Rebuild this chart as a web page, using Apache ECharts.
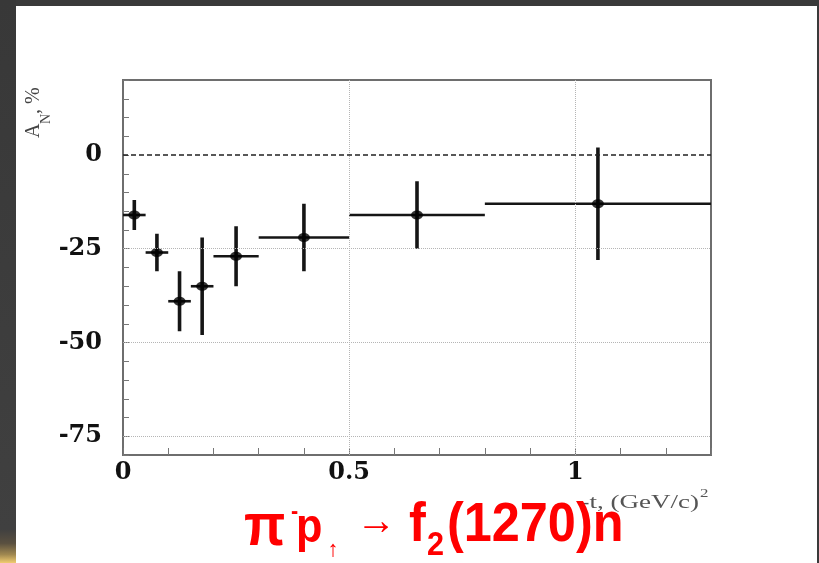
<!DOCTYPE html>
<html>
<head>
<meta charset="utf-8">
<script src="https://cdn.jsdelivr.net/npm/echarts@6/dist/echarts.min.js"></script>
<style>
  html, body { margin: 0; padding: 0; }
  body { width: 819px; height: 563px; background: #3a3a3a; position: relative; overflow: hidden; }
  #edge { position: absolute; left: 0; top: 0; width: 16px; height: 563px;
          background: linear-gradient(to bottom, #383838 0%, #404040 94%, #5a5040 96.5%, #a08850 98.5%, #f0cc70 100%); }
  #panel { position: absolute; left: 16px; top: 6px; width: 801px; height: 557px; background: #ffffff; }
  #chart { position: absolute; left: 0; top: 0; width: 819px; height: 563px; }
</style>
</head>
<body>
<div id="edge"></div>
<div id="panel"></div>
<div id="chart"></div>
<script>
// t bins (GeV/c)^2 and the analysing power A_N in each bin (%)
const binLow    = [0, 0.05, 0.10, 0.15, 0.20, 0.30, 0.50, 0.80];
const binHigh   = [0.05, 0.10, 0.15, 0.20, 0.30, 0.50, 0.80, 1.30];
const binCenter = [0.025, 0.075, 0.125, 0.175, 0.25, 0.40, 0.65, 1.05];
const asym      = [-16, -26, -39, -35, -27, -22, -16, -13];
const asymErr   = [4, 5, 8, 13, 8, 9, 9, 15];

// axis labelling
const yTickLabels = [0, -25, -50, -75];
const xTickLabels = [0, 0.5, 1];
const yGridLines  = [-25, -50, -75];
const xGridLines  = [0.5, 1];

const points = binCenter.map((x, i) => [x, asym[i], binLow[i], binHigh[i], asymErr[i]]);

const chart = echarts.init(document.getElementById('chart'), null, { renderer: 'canvas' });

const tickFont = { fontFamily: 'DejaVu Serif', fontWeight: 'bold', fontSize: 24, color: '#111' };
const frameColor = '#6e6e6e';

const option = {
  animation: false,
  backgroundColor: 'transparent',
  grid: { left: 123, top: 80, width: 588, height: 375, show: true,
          borderColor: frameColor, borderWidth: 2, backgroundColor: 'transparent' },
  xAxis: {
    type: 'value', min: 0, max: 1.3, interval: 0.1,
    axisLine: { show: true, onZero: false, lineStyle: { color: frameColor, width: 2 } },
    axisTick: { show: true, inside: true, length: 7, lineStyle: { color: '#777', width: 1 } },
    splitLine: { show: false },
    axisLabel: Object.assign({ margin: 6, formatter: v => {
      const t = Math.round(v * 10) / 10;
      return xTickLabels.indexOf(t) >= 0 ? String(t) : '';
    } }, tickFont)
  },
  yAxis: {
    type: 'value', min: -80, max: 20, interval: 5,
    axisLine: { show: true, onZero: false, lineStyle: { color: frameColor, width: 2 } },
    axisTick: { show: true, inside: true, length: 6, lineStyle: { color: '#777', width: 1 } },
    splitLine: { show: false },
    axisLabel: Object.assign({ margin: 21, formatter: v => {
      const t = Math.round(v);
      return yTickLabels.indexOf(t) >= 0 ? String(t) : '';
    } }, tickFont)
  },
  series: [
    {
      // reference lines: dotted grid and the dashed zero level
      type: 'scatter', data: [], silent: true, z: 1,
      markLine: {
        silent: true, symbol: ['none', 'none'], label: { show: false },
        data: yGridLines.map(v => ({ yAxis: v, lineStyle: { type: 'dotted', color: '#b5b5b5', width: 1 } }))
          .concat(xGridLines.map(v => ({ xAxis: v, lineStyle: { type: 'dotted', color: '#b5b5b5', width: 1 } })))
          .concat([{ yAxis: 0, lineStyle: { type: [5, 3], color: '#222', width: 1.6 } }])
      }
    },
    {
      // error bars: horizontal = bin width, vertical = statistical error
      type: 'custom', z: 3,
      data: points,
      encode: { x: 0, y: 1 },
      renderItem: (params, api) => {
        const xc = api.value(0), y = api.value(1);
        const lo = api.value(2), hi = api.value(3), err = api.value(4);
        const pL = api.coord([lo, y]), pR = api.coord([hi, y]);
        const pT = api.coord([xc, y + err]), pB = api.coord([xc, y - err]);
        return {
          type: 'group',
          children: [
            { type: 'line', shape: { x1: pL[0], y1: pL[1], x2: pR[0], y2: pR[1] },
              style: { stroke: '#151515', lineWidth: 2.6 } },
            { type: 'line', shape: { x1: pT[0], y1: pT[1], x2: pB[0], y2: pB[1] },
              style: { stroke: '#151515', lineWidth: 3.6 } }
          ]
        };
      }
    },
    {
      type: 'scatter', z: 4,
      data: binCenter.map((x, i) => [x, asym[i]]),
      symbol: 'circle', symbolSize: [12, 9],
      itemStyle: { color: '#000' }
    }
  ],
  graphic: [
    // y axis title A_N, %
    {
      type: 'group', x: 41, y: 138, rotation: Math.PI / 2, silent: true,
      children: [
        { type: 'text', x: 0, y: -7, style: { text: 'A', font: '20px "Liberation Serif"', fill: '#444', verticalAlign: 'middle' } },
        { type: 'text', x: 14, y: 5, style: { text: 'N', font: '14px "Liberation Serif"', fill: '#444', verticalAlign: 'middle' } },
        { type: 'text', x: 24, y: -7, style: { text: ', %', font: '20px "Liberation Serif"', fill: '#444', verticalAlign: 'middle' } }
      ]
    },
    // x axis title
    { type: 'text', x: 699, y: 503, scaleX: 1.5, silent: true,
      style: { text: '-t, (GeV/c)', font: '18px "Liberation Serif"', fill: '#555', align: 'right', verticalAlign: 'middle' } },
    { type: 'text', x: 700, y: 494, scaleX: 1.3, silent: true,
      style: { text: '2', font: '13px "Liberation Serif"', fill: '#555', align: 'left', verticalAlign: 'middle' } },
    // reaction label
    { type: 'text', x: 244, y: 528, scaleX: 0.9, z: 10, silent: true,
      style: { text: 'π', font: 'bold 60px "Liberation Sans"', fill: '#ff0000', verticalAlign: 'middle' } },
    { type: 'text', x: 291, y: 512, scaleX: 0.9, z: 10, silent: true,
      style: { text: '-', font: 'bold 24px "Liberation Sans"', fill: '#ff0000', verticalAlign: 'middle' } },
    { type: 'text', x: 296, y: 529, scaleX: 0.9, z: 10, silent: true,
      style: { text: 'p', font: 'bold 48px "Liberation Sans"', fill: '#ff0000', verticalAlign: 'middle' } },
    { type: 'text', x: 333, y: 550, z: 10, silent: true,
      style: { text: '↑', font: '22px "Liberation Sans"', fill: '#ff0000', align: 'center', verticalAlign: 'middle' } },
    { type: 'text', x: 356, y: 522, scaleX: 0.95, z: 10, silent: true,
      style: { text: '→', font: '42px "Liberation Sans"', fill: '#ff0000', verticalAlign: 'middle' } },
    { type: 'text', x: 409, y: 526, scaleX: 0.9, z: 10, silent: true,
      style: { text: 'f', font: 'bold 56px "Liberation Sans"', fill: '#ff0000', verticalAlign: 'middle' } },
    { type: 'text', x: 427, y: 546, scaleX: 0.9, z: 10, silent: true,
      style: { text: '2', font: 'bold 34px "Liberation Sans"', fill: '#ff0000', verticalAlign: 'middle' } },
    { type: 'text', x: 447, y: 526, scaleX: 0.9, z: 10, silent: true,
      style: { text: '(1270)n', font: 'bold 56px "Liberation Sans"', fill: '#ff0000', verticalAlign: 'middle' } }
  ]
};

chart.setOption(option);
</script>
</body>
</html>
